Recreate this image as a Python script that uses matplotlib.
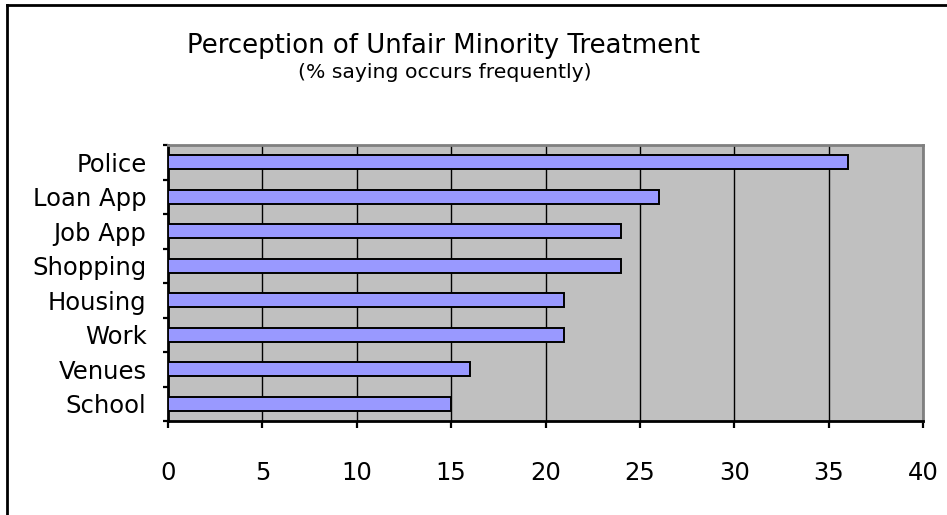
import matplotlib
matplotlib.use("Agg")
import matplotlib.pyplot as plt
from matplotlib.lines import Line2D

# Data
categories = ["Police", "Loan App", "Job App", "Shopping", "Housing", "Work", "Venues", "School"]
values = [36, 26, 24, 24, 21, 21, 16, 15]
xticks = [0, 5, 10, 15, 20, 25, 30, 35, 40]

# Theme
plot_bg = "#C0C0C0"
bar_color = "#9999FF"
frame_gray = "#808080"
font = "DejaVu Sans"

W, H = 947, 515
fig = plt.figure(figsize=(W / 100, H / 100), dpi=100)
fig.patch.set_facecolor("white")

# plot area in pixels: x 168..923, y 145..421
ax = fig.add_axes([168 / W, 1 - 421 / H, (923 - 168) / W, (421 - 145) / H])
ax.set_facecolor(plot_bg)

pos = list(range(len(categories)))
ax.barh(pos, values, height=0.41, color=bar_color, edgecolor="black",
        linewidth=1.4, zorder=3)

ax.set_xlim(0, 40)
ax.set_ylim(len(categories) - 0.5, -0.5)

ax.set_xticks(xticks)
ax.set_xticklabels([str(v) for v in xticks])
ax.set_yticks(pos)
ax.set_yticklabels(categories)
ax.set_yticks([p - 0.5 for p in pos] + [len(categories) - 0.5], minor=True)

ax.grid(axis="x", color="black", linewidth=1.0, zorder=1)
ax.grid(axis="y", visible=False)

ax.tick_params(axis="y", which="major", length=0, pad=15.5)
ax.tick_params(axis="y", which="minor", direction="out", length=3.8, width=1.6)
ax.tick_params(axis="x", which="major", direction="out", length=5, width=1.6, pad=24)

for s in ["top", "right"]:
    ax.spines[s].set_color(frame_gray)
    ax.spines[s].set_linewidth(2)
for s in ["left", "bottom"]:
    ax.spines[s].set_color("black")
    ax.spines[s].set_linewidth(2)

for lab in ax.get_yticklabels() + ax.get_xticklabels():
    lab.set_fontfamily(font)
    lab.set_fontsize(15)

# Titles
title = fig.text(443 / W, 1 - 46 / H, "Perception of Unfair Minority Treatment",
                 ha="center", va="center", fontsize=20, family=font)
subtitle = fig.text(445 / W, 1 - 73 / H, "(% saying occurs frequently)",
                    ha="center", va="center", fontsize=14, family=font)

# Chart border (only left and top visible in the crop)
fig.add_artist(Line2D([7 / W, 7 / W], [-0.1, 1 - 5 / H], transform=fig.transFigure,
                      color="black", linewidth=2))
fig.add_artist(Line2D([7 / W, 1.1], [1 - 5 / H, 1 - 5 / H], transform=fig.transFigure,
                      color="black", linewidth=2))

# fit text widths to the reference
fig.canvas.draw()
r = fig.canvas.get_renderer()
for t, target in [(title, 511), (subtitle, 294)]:
    w = t.get_window_extent(r).width
    t.set_fontsize(t.get_fontsize() * target / w)

loan = [l for l in ax.get_yticklabels() if l.get_text() == "Loan App"][0]
scale = 113 / loan.get_window_extent(r).width
for lab in ax.get_yticklabels() + ax.get_xticklabels():
    lab.set_fontsize(lab.get_fontsize() * scale)

fig.savefig("out.png", dpi=100, facecolor="white")
